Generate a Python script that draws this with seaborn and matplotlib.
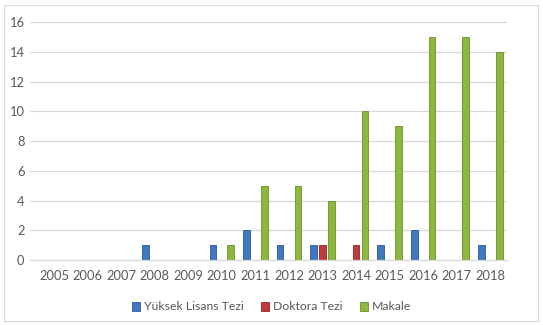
import matplotlib
matplotlib.use("Agg")
import matplotlib.pyplot as plt
import seaborn as sns
import pandas as pd
from matplotlib.patches import Rectangle

years = ["2005", "2006", "2007", "2008", "2009", "2010", "2011",
         "2012", "2013", "2014", "2015", "2016", "2017", "2018"]
yuksek_lisans = [0, 0, 0, 1, 0, 1, 2, 1, 1, 0, 1, 2, 0, 1]
doktora = [0, 0, 0, 0, 0, 0, 0, 0, 1, 1, 0, 0, 0, 0]
makale = [0, 0, 0, 0, 0, 1, 5, 5, 4, 10, 9, 15, 15, 14]
series_names = ["Yüksek Lisans Tezi", "Doktora Tezi", "Makale"]
colors = ["#3F78BF", "#C0393B", "#8DB83E"]
edges = ["#2B5A94", "#8E2426", "#6A8F2A"]

df = pd.DataFrame({
    "Yıl": years * 3,
    "Değer": yuksek_lisans + doktora + makale,
    "Seri": [series_names[0]] * 14 + [series_names[1]] * 14 + [series_names[2]] * 14,
})

sns.set_theme(style="white")
plt.rcParams["font.family"] = ["Lato", "DejaVu Sans"]

fig = plt.figure(figsize=(5.43, 3.25), dpi=100)
fig.patch.set_facecolor("white")
ax = fig.add_axes([30 / 543, 1 - 260 / 325, (507 - 30) / 543, (260 - 22.3) / 325])

sns.barplot(data=df, x="Yıl", y="Değer", hue="Seri", palette=colors,
            width=0.8, gap=0.25, ax=ax, legend=False, saturation=1)

for i, cont in enumerate(ax.containers):
    for bar in cont:
        bar.set_edgecolor(edges[i])
        bar.set_linewidth(0.6)
        if bar.get_height() == 0:
            bar.set_visible(False)

ax.set_xlim(-0.72, 13.5)
ax.set_ylim(0, 16)
ax.set_yticks(range(0, 17, 2))
ax.grid(axis="y", color="#D9D9D9", linewidth=0.9)
ax.set_axisbelow(True)
for s in ["top", "right", "left"]:
    ax.spines[s].set_visible(False)
ax.spines["bottom"].set_color("#D9D9D9")
ax.spines["bottom"].set_linewidth(0.9)
ax.tick_params(axis="both", length=0, labelsize=9.3, colors="#595959", pad=4)
ax.tick_params(axis="x", pad=7)
ax.set_xlabel("")
ax.set_ylabel("")

handles = [Rectangle((0, 0), 1, 1, facecolor=c, edgecolor=e, linewidth=0.6)
           for c, e in zip(colors, edges)]
leg = fig.legend(handles, series_names, loc="center", bbox_to_anchor=(0.5, 1 - 307 / 325),
                 ncol=3, frameon=False, fontsize=8.8, handlelength=0.7, handleheight=0.7,
                 handletextpad=0.3, columnspacing=1.4)
for t in leg.get_texts():
    t.set_color("#595959")

border = Rectangle((4 / 543, 4 / 325), 534 / 543, 316 / 325, transform=fig.transFigure,
                   fill=False, edgecolor="#D9D9D9", linewidth=0.8)
fig.add_artist(border)

fig.savefig("out.png", dpi=100)
